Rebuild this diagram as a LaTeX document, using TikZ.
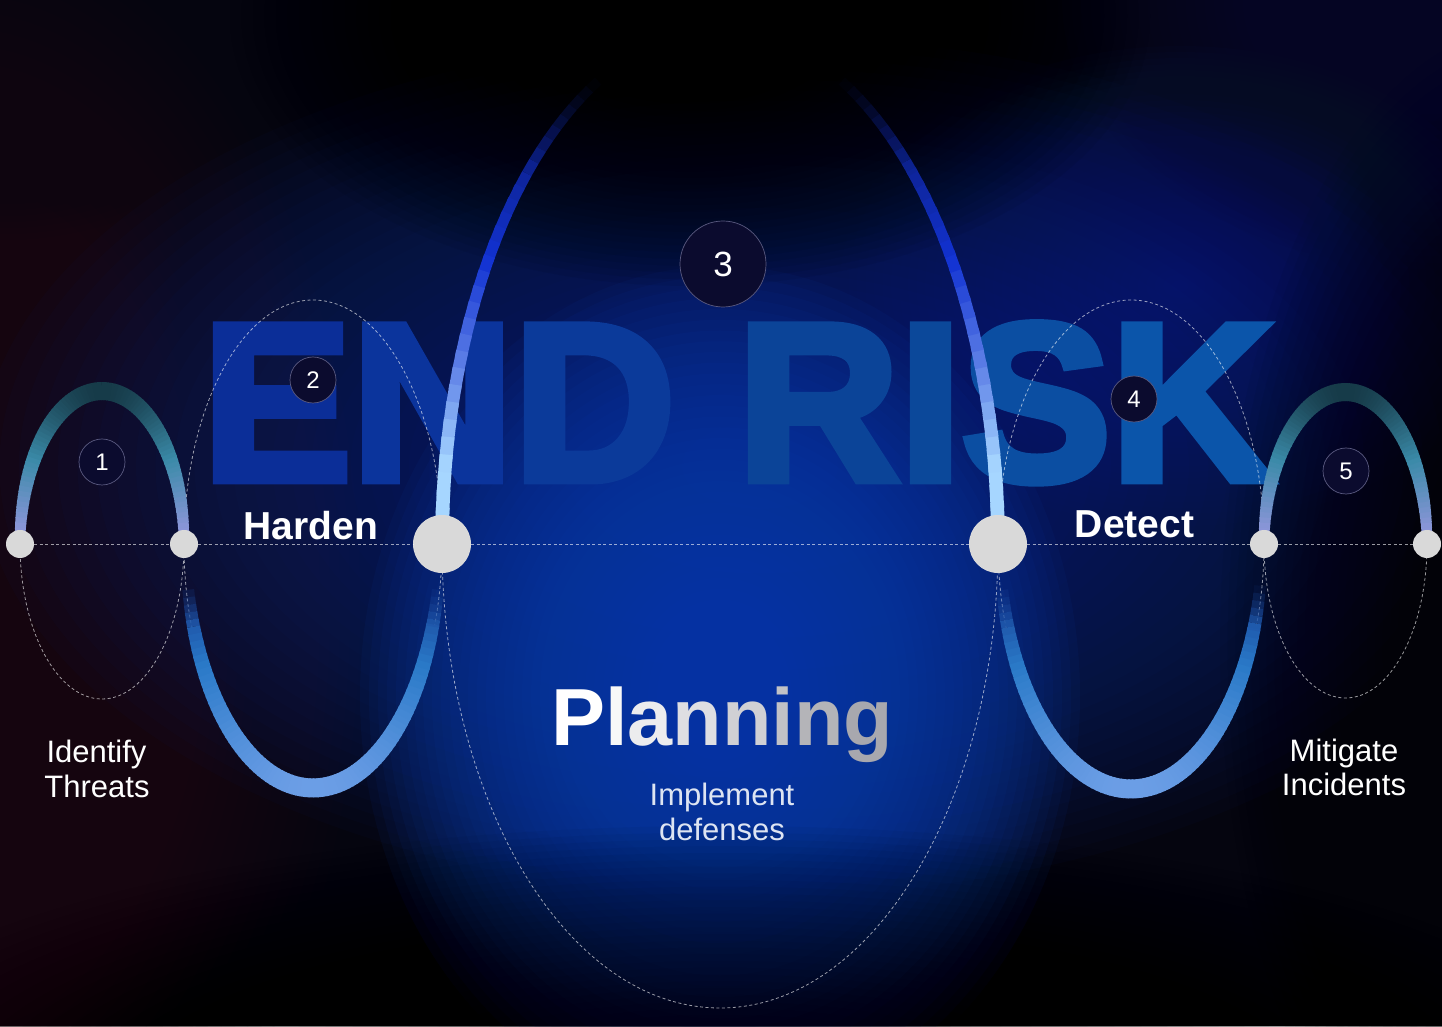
\documentclass[tikz,border=0pt]{standalone}
\usepackage{fontspec}
\setmainfont{Liberation Sans}
\newfontfamily\heavyfont{Liberation Sans}[UprightFeatures={FakeBold=4}, BoldFeatures={FakeBold=4}]
\definecolor{bgbase}{HTML}{05050F}
\definecolor{ptgray}{HTML}{D9D9D9}
\definecolor{numfill}{HTML}{0B0B2E}
\definecolor{numring}{HTML}{5A5A80}
\definecolor{implc}{HTML}{DDE4F2}
\definecolor{erE}{HTML}{0B2E98}
\definecolor{erN}{HTML}{0B349C}
\definecolor{erD}{HTML}{0B3A9A}
\definecolor{erR}{HTML}{0B4498}
\definecolor{erI}{HTML}{0B489A}
\definecolor{erS}{HTML}{0B4EA2}
\definecolor{erK}{HTML}{0B55AA}
\definecolor{pl1}{HTML}{FFFFFF}
\definecolor{pl2}{HTML}{F8F8F8}
\definecolor{pl3}{HTML}{ECECEE}
\definecolor{pl4}{HTML}{DEDEE2}
\definecolor{pl5}{HTML}{D0D0D4}
\definecolor{pl6}{HTML}{C2C2C6}
\definecolor{pl7}{HTML}{B4B4B8}
\definecolor{pl8}{HTML}{A8A8AE}
\definecolor{glwarm}{RGB}{42,18,22}
\definecolor{glband}{RGB}{10,40,125}
\definecolor{glcore}{RGB}{11,63,176}
\definecolor{glright}{RGB}{10,56,150}
\definecolor{gldark}{RGB}{2,2,8}
\definecolor{glpurple}{RGB}{23,11,60}
\definecolor{glcorner}{RGB}{14,6,24}
% soft glow: nested ellipses of low opacity (#6 = opacity per layer)
\newcommand\glowell[6]{%
  \foreach \kk in {40,...,1}{%
    \pgfmathsetmacro\rxx{#3/40*\kk}%
    \pgfmathsetmacro\ryy{#4/40*\kk}%
    \fill[#5, opacity=#6] (#1,#2) ellipse [x radius=\rxx pt, y radius=\ryy pt];
  }%
}
% gradient arc drawn as short segments
\newcommand\gradarc[6]{%
  \foreach \ii in {0,...,89}{%
    \pgfmathsetmacro\angM{#5+(\ii+0.5)*(#6-#5)/90}%
    \pgfmathsetmacro\sv{abs(sin(\angM))}%
    \pgfmathsetmacro\ov{max(0,min(1,min((\sv-\oA)/(\oB-\oA),(\oD-\sv)/(\oD-\oC))))}%
    \pgfmathsetmacro\ext{\ov<0.999 ? 1.0 : 1.3}%
    \pgfmathsetmacro\angA{#5+\ii*(#6-#5)/90}%
    \pgfmathsetmacro\angB{#5+(\ii+\ext)*(#6-#5)/90}%
    \pgfmathtruncatemacro\pa{100*max(0,min(1,(\sv-\stA)/(\stB-\stA)))}%
    \pgfmathtruncatemacro\pb{100*max(0,min(1,(\sv-\stB)/(\stC-\stB)))}%
    \pgfmathtruncatemacro\pc{100*max(0,min(1,(\sv-\stC)/(\stD-\stC)))}%
    \colorlet{segc}{gB!\pa!gA}%
    \colorlet{segc}{gC!\pb!segc}%
    \colorlet{segc}{gD!\pc!segc}%
    \pgfmathsetmacro\wv{\wlo+(\whi-\wlo)*\sv}%
    \draw[segc, opacity=\ov, line width=\wv pt] ({#1+#3*cos(\angA)},{#2+#4*sin(\angA)}) -- ({#1+#3*cos(\angB)},{#2+#4*sin(\angB)});
  }%
}
\begin{document}
\begin{tikzpicture}[x=1pt,y=1pt,
  dotl/.style={white, opacity=0.6, line width=0.8pt, dash pattern=on 3pt off 2.5pt},
  ptsmall/.style={circle, fill=ptgray, minimum size=28pt, inner sep=0pt},
  ptbig/.style={circle, fill=ptgray, minimum size=58pt, inner sep=0pt},
  numc/.style={circle, fill=numfill, draw=numring, line width=0.7pt, minimum size=46pt, inner sep=0pt, text=white, font=\fontsize{24}{24}\selectfont},
  numbig/.style={numc, minimum size=86pt, font=\fontsize{35}{35}\selectfont},
  steplbl/.style={text=white, inner sep=0pt, anchor=base, font=\bfseries\fontsize{39}{39}\selectfont},
  sidelbl/.style={text=white, inner sep=0pt, anchor=base, font=\fontsize{31}{31}\selectfont}
]
\useasboundingbox (0,0) rectangle (1442,1026);
% ---------- background ----------
\fill[bgbase] (0,0) rectangle (1442,1026);
\begin{scope}
\clip (0,0) rectangle (1442,1026);
\glowell{-40}{420}{400}{680}{glwarm}{0.046}
\glowell{760}{560}{780}{430}{glband}{0.046}
\glowell{720}{330}{360}{430}{glcore}{0.072}
\glowell{1180}{740}{340}{240}{glright}{0.025}
\glowell{690}{1010}{460}{270}{black}{0.056}
\glowell{1530}{380}{310}{620}{gldark}{0.046}
\glowell{720}{-70}{920}{270}{black}{0.034}
\glowell{1442}{1026}{380}{270}{glpurple}{0.039}
\glowell{0}{1026}{300}{240}{glcorner}{0.039}
\end{scope}
% ---------- big title ----------
\node[inner sep=0pt, anchor=base, font=\heavyfont\bfseries\fontsize{224}{224}\selectfont] (endrisk) at (737.5,546)
  {\textcolor{erE}{E}\textcolor{erN}{N}\textcolor{erD}{D} \textcolor{erR}{R}\textcolor{erI}{I}\textcolor{erS}{S}\textcolor{erK}{K}};
% ---------- dotted ellipses ----------
\draw[dotl] (102,482) ellipse [x radius=82pt, y radius=155pt];
\draw[dotl] (313,482) ellipse [x radius=129pt, y radius=244pt];
\draw[dotl] (442,482) arc [start angle=180, end angle=360, x radius=278pt, y radius=464pt];
\draw[dotl] (1131,482) ellipse [x radius=133pt, y radius=244pt];
\draw[dotl] (1345.5,482) ellipse [x radius=81.5pt, y radius=154pt];
% ---------- solid gradient arcs ----------
% arc 1 and arc 5 (top)
\definecolor{gA}{HTML}{8A95D8}\definecolor{gB}{HTML}{3A8AA8}\definecolor{gC}{HTML}{163A48}\definecolor{gD}{HTML}{163A48}
\def\stA{0.1}\def\stB{0.55}\def\stC{1.0}\def\stD{1.5}\def\wlo{10}\def\whi{18}
\def\oA{-2}\def\oB{-1}\def\oC{2}\def\oD{3}
\gradarc{102}{482}{82}{153}{0}{180}
\gradarc{1345.5}{482}{81.5}{152}{0}{180}
% arc 2 and arc 4 (bottom)
\definecolor{gA}{HTML}{1A4AA0}\definecolor{gB}{HTML}{2A7AC8}\definecolor{gC}{HTML}{6C9EE6}\definecolor{gD}{HTML}{6C9EE6}
\def\stA{0.25}\def\stB{0.5}\def\stC{1.0}\def\stD{1.5}\def\wlo{10}\def\whi{19}
\def\oA{0.17}\def\oB{0.34}\def\oC{2}\def\oD{3}
\gradarc{313}{482}{127}{244}{189}{351}
\gradarc{1131}{482}{131}{245}{189}{352}
% arc 3 (top, large)
\definecolor{gA}{HTML}{A6D6FF}\definecolor{gB}{HTML}{5C7EE6}\definecolor{gC}{HTML}{1232D2}\definecolor{gD}{HTML}{0A1A70}
\def\stA{0.15}\def\stB{0.35}\def\stC{0.55}\def\stD{0.85}\def\wlo{14}\def\whi{9}
\def\oA{-2}\def\oB{-1}\def\oC{0.72}\def\oD{0.9}
\gradarc{720}{482}{278}{515}{0}{180}
% ---------- points on the axis ----------
\node[ptsmall] (p1) at (20,482) {};
\node[ptsmall] (p2) at (184,482) {};
\node[ptbig] (p3) at (442,482) {};
\node[ptbig] (p4) at (998,482) {};
\node[ptsmall] (p5) at (1264,482) {};
\node[ptsmall] (p6) at (1427,482) {};
\draw[dotl] (p1) -- (p2) -- (p3) -- (p4) -- (p5) -- (p6);
% ---------- numbers ----------
\node[numc] (n1) at (102,564) {1};
\node[numc] (n2) at (313,646) {2};
\node[numbig] (n3) at (723,762) {3};
\node[numc] (n4) at (1134,627) {4};
\node[numc] (n5) at (1346,555) {5};
% ---------- labels ----------
\node[steplbl] (harden) at (311,486) {Harden};
\node[steplbl] (detect) at (1134.5,488) {Detect};
\node[sidelbl] (ident1) at (96.5,264) {Identify};
\node[sidelbl] (ident2) at (97,229) {Threats};
\node[sidelbl] (mitig1) at (1344,265) {Mitigate};
\node[sidelbl] (mitig2) at (1344,231) {Incidents};
\node[inner sep=0pt, anchor=base, font=\bfseries\fontsize{81}{81}\selectfont] (planning) at (722,281)
  {\textcolor{pl1}{P}\textcolor{pl2}{l}\textcolor{pl3}{a}\textcolor{pl4}{n}\textcolor{pl5}{n}\textcolor{pl6}{i}\textcolor{pl7}{n}\textcolor{pl8}{g}};
\node[sidelbl, text=implc] (impl1) at (722,221) {Implement};
\node[sidelbl, text=implc] (impl2) at (722,186) {defenses};
\end{tikzpicture}
\end{document}
